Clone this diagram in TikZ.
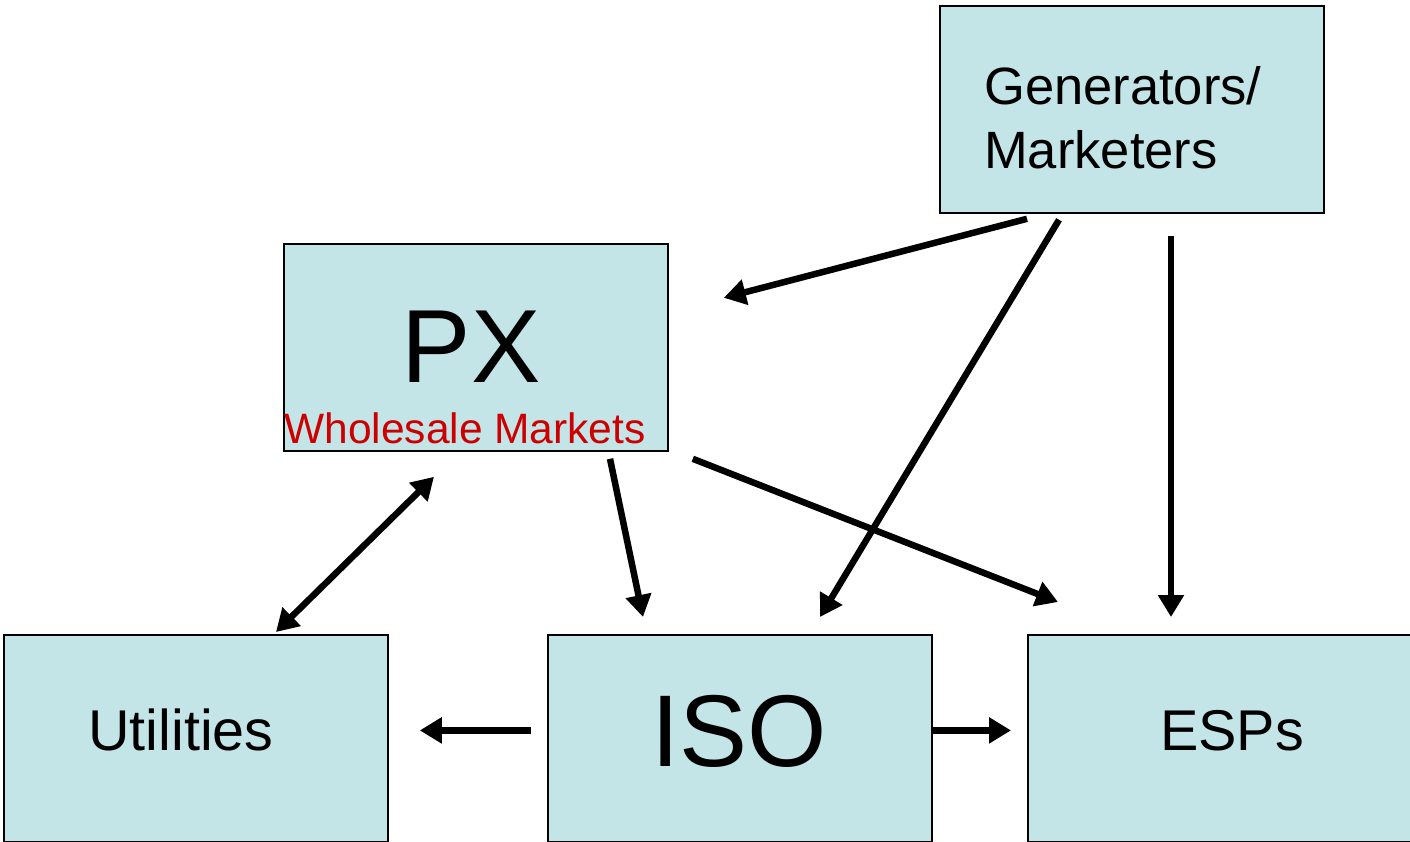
\documentclass[tikz,border=0pt]{standalone}
\usepackage{fontspec}
\setmainfont{Liberation Sans}
\usetikzlibrary{calc,arrows.meta}
\definecolor{boxfill}{HTML}{C4E5E8}
\definecolor{pxred}{HTML}{CC0000}
\begin{document}
\begin{tikzpicture}[x=1pt,y=-1pt,
  box/.style={draw=black,line width=1.8pt,fill=boxfill,inner sep=0pt,minimum width=384pt,minimum height=207pt,anchor=north west},
  conn/.style={line width=6.5pt,-{Triangle[length=22pt,width=25pt]}},
  conn2/.style={line width=6.5pt,{Triangle[length=22pt,width=25pt]}-{Triangle[length=22pt,width=25pt]}},
  lbl/.style={anchor=base,inner sep=0pt}]
\useasboundingbox (0,0) rectangle (1410,842);
\node[box] (gen) at (939,5) {};
\node[box] (px) at (283,243) {};
\node[box] (util) at (3,634) {};
\node[box] (iso) at (547,634) {};
\node[box,minimum width=390pt] (esp) at (1027,634) {};
% labels
\node[lbl,anchor=base west,font=\fontsize{52.5}{63}\selectfont] (gent) at (984,105) {Generators/};
\node[lbl,anchor=base west,font=\fontsize{52.5}{63}\selectfont] (genm) at (984,169) {Marketers};
\node[lbl,font=\fontsize{104}{110}\selectfont] (pxt) at (471,382) {PX};
\node[lbl,font=\fontsize{42.5}{50}\selectfont,text=pxred] (pxw) at (465,443) {Wholesale Markets};
\node[lbl,font=\fontsize{57.5}{66}\selectfont] (utilt) at (181,750) {Utilities};
\node[lbl,font=\fontsize{102}{110}\selectfont] (isot) at (739,766) {ISO};
\node[lbl,font=\fontsize{57.5}{66}\selectfont] (espt) at (1232,750) {ESPs};
% connector end points
\coordinate (g1) at ($(gen.south west)+(88,5)$);
\coordinate (g2) at ($(gen.south west)+(120,6)$);
\coordinate (g3) at ($(gen.south west)+(232,22)$);
\coordinate (p1) at ($(px.south east)+(24,7)$);
\coordinate (p2) at ($(px.south west)+(327,7)$);
\coordinate (p3) at ($(px.south west)+(151,25)$);
\coordinate (pin) at ($(px.south east)+(55,-154)$);
\coordinate (itop) at ($(iso.north west)+(96,-17)$);
\coordinate (itop2) at ($(iso.north west)+(273,-17)$);
\coordinate (il) at ($(iso.west)+(-16,-8)$);
\coordinate (ir) at ($(iso.east)+(0,-8)$);
\coordinate (ul) at ($(util.north west)+(273,-2)$);
\coordinate (ur) at ($(util.east)+(31,-8)$);
\coordinate (e1) at ($(esp.north west)+(31,-32)$);
\coordinate (e2) at ($(esp.north west)+(144,-17)$);
\coordinate (el) at ($(esp.west)+(-16,-8)$);
% connectors
\draw[conn] (g1) -- (pin);
\draw[conn] (g2) -- (itop2);
\draw[conn] (g3) -- (e2);
\draw[conn] (p1) -- (e1);
\draw[conn] (p2) -- (itop);
\draw[conn2] (p3) -- (ul);
\draw[conn] (il) -- (ur);
\draw[conn] (ir) -- (el);
\end{tikzpicture}
\end{document}
